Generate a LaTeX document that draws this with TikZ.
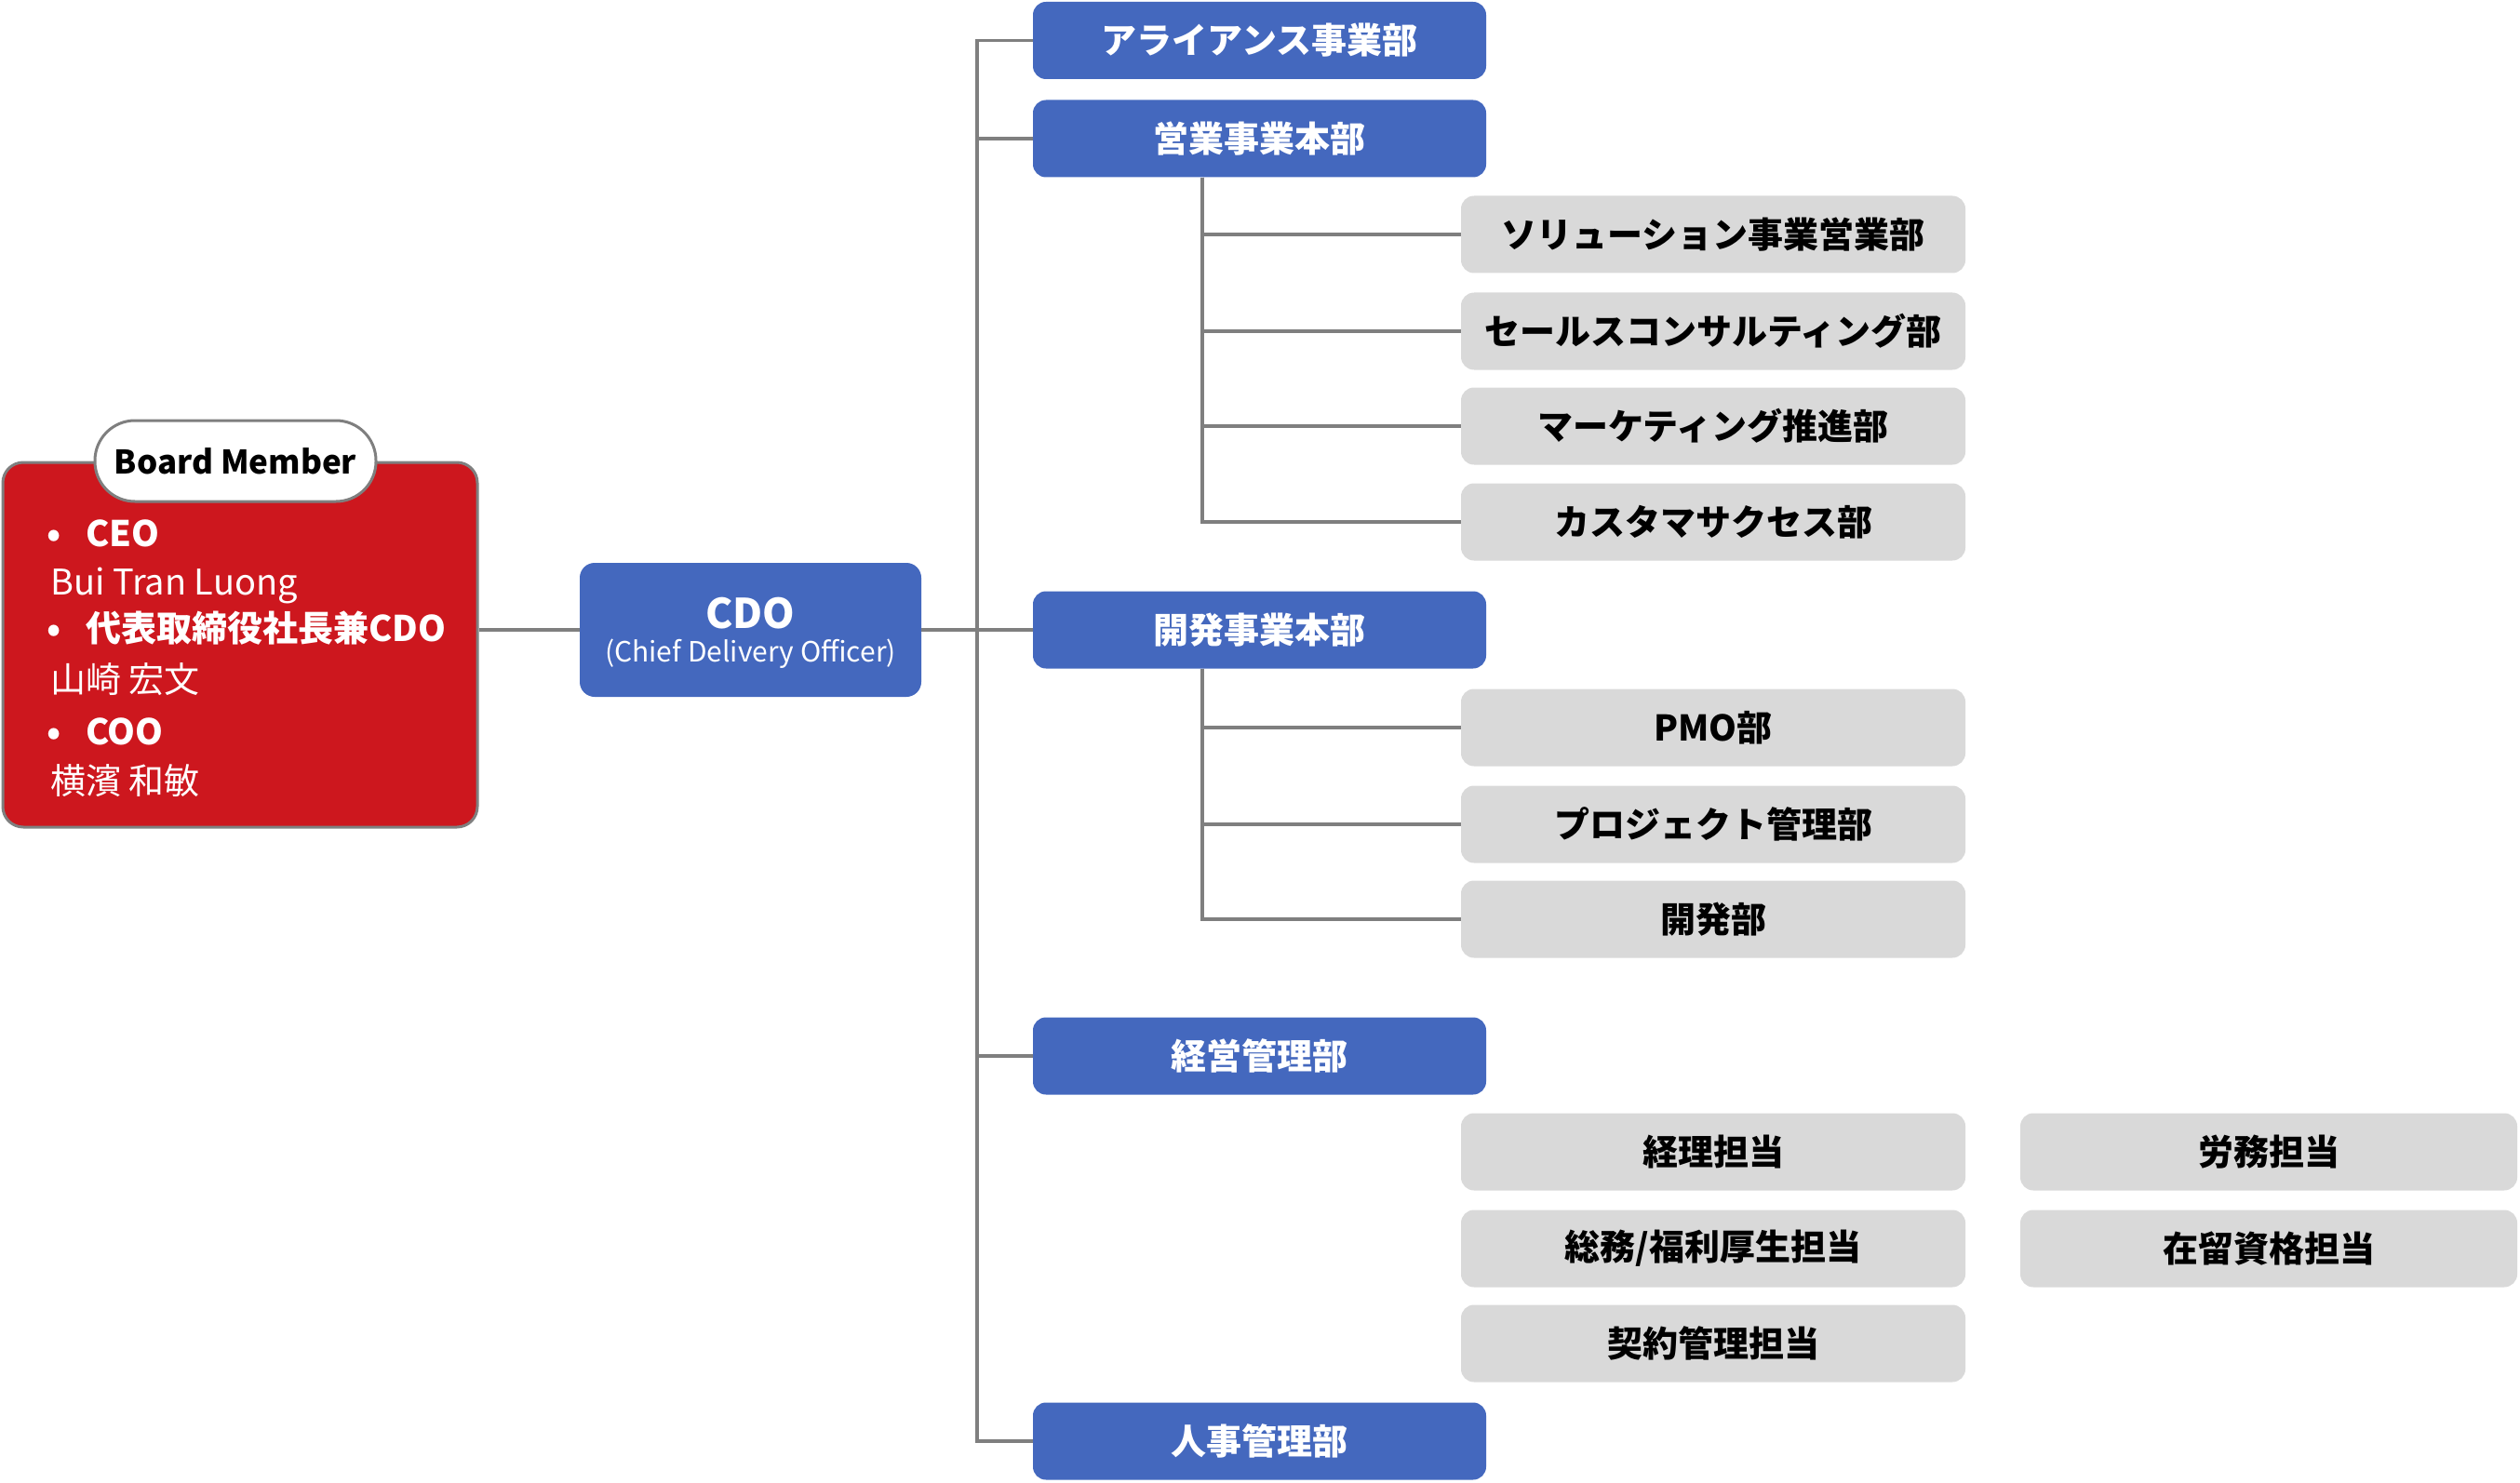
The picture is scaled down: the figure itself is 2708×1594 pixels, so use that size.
\documentclass[tikz,border=0pt]{standalone}
\usepackage{fontspec}
\setmainfont{Noto Sans CJK JP}
\definecolor{boardred}{HTML}{CD171E}
\definecolor{boxblue}{HTML}{4468BE}
\definecolor{boxgray}{HTML}{D9D9D9}
\definecolor{linegray}{HTML}{7F7F7F}
\begin{document}
\begin{tikzpicture}[x=1pt,y=-1pt,
  conn/.style={draw=linegray, line width=3.5pt},
  bluebox/.style={fill=boxblue, rounded corners=14pt, minimum width=487pt, minimum height=83pt, inner sep=0pt, text=white, font=\fontsize{38}{46}\selectfont\bfseries},
  graybox/.style={fill=boxgray, rounded corners=14pt, minimum width=542pt, minimum height=83pt, inner sep=0pt, text=black, font=\fontsize{38}{46}\selectfont\bfseries},
  grayboxr/.style={graybox, minimum width=534pt},
  boardtxt/.style={anchor=base west, inner sep=0pt, text=white, font=\fontsize{38}{46}\selectfont},
  boardbold/.style={boardtxt, font=\fontsize{38}{46}\selectfont\bfseries},
]
\useasboundingbox (0,0) rectangle (2708,1594);

% Board member box
\node[draw=linegray, line width=3pt, fill=boardred, rounded corners=22pt, minimum width=510pt, minimum height=392pt, inner sep=0pt] (board) at (258,693) {};
\node[draw=linegray, line width=3pt, fill=white, rounded corners=43pt, minimum width=302pt, minimum height=87pt, inner sep=0pt, font=\fontsize{35}{42}\selectfont\bfseries] (tab) at (253,495.5) {Board Member};

\node[boardbold] (b1) at (50,587) {•};
\node[boardbold] (t1) at (92,587) {CEO};
\node[boardtxt] (n1) at (54,639) {Bui Tran Luong};
\node[boardbold] (b2) at (50,689) {•};
\node[boardbold] (t2) at (92,689) {代表取締役社長兼CDO};
\node[boardtxt] (n2) at (54,744) {山崎 宏文};
\node[boardbold] (b3) at (50,800) {•};
\node[boardbold] (t3) at (92,800) {COO};
\node[boardtxt] (n3) at (54,853) {横濱 和敏};

% CDO box
\node[fill=boxblue, rounded corners=16pt, minimum width=367pt, minimum height=144pt, inner sep=0pt] (cdo) at (806.5,677) {};
\node[text=white, inner sep=0pt, anchor=base, font=\fontsize{44}{50}\selectfont\bfseries] (cdot) at (806.5,675) {CDO};
\node[text=white, inner sep=0pt, anchor=base, font=\fontsize{30}{36}\selectfont] (cdos) at (806.5,711) {(Chief Delivery Officer)};

% Blue departments
\node[bluebox] (alliance) at (1353.5,43.5) {アライアンス事業部};
\node[bluebox] (sales) at (1353.5,149) {営業事業本部};
\node[bluebox] (dev) at (1353.5,677) {開発事業本部};
\node[bluebox] (mgmt) at (1353.5,1135) {経営管理部};
\node[bluebox] (hr) at (1353.5,1549) {人事管理部};

% Gray sub-departments
\node[graybox] (sol) at (1841,252) {ソリューション事業営業部};
\node[graybox] (scon) at (1841,356) {セールスコンサルティング部};
\node[graybox] (mkt) at (1841,458) {マーケティング推進部};
\node[graybox] (cs) at (1841,561) {カスタマサクセス部};
\node[graybox] (pmo) at (1841,782) {PMO部};
\node[graybox] (pm) at (1841,886) {プロジェクト管理部};
\node[graybox] (devd) at (1841,988) {開発部};
\node[graybox] (acct) at (1841,1238) {経理担当};
\node[graybox] (ga) at (1841,1342) {総務/福利厚生担当};
\node[graybox] (contract) at (1841,1444) {契約管理担当};
\node[grayboxr] (labor) at (2438,1238) {労務担当};
\node[grayboxr] (visa) at (2438,1342) {在留資格担当};

% Connectors
\draw[conn] (cdo.west -| board.east) -- (cdo.west);
\coordinate (trunk) at (1050,677);
\draw[conn] (cdo.east) -- (trunk);
\foreach \d in {alliance,sales,dev,mgmt,hr}
  \draw[conn] (trunk) |- (\d.west);
\coordinate (bx) at (1292,0);
\foreach \s in {sol,scon,mkt,cs}
  \draw[conn] (sales.south -| bx) |- (\s.west);
\foreach \s in {pmo,pm,devd}
  \draw[conn] (dev.south -| bx) |- (\s.west);
\end{tikzpicture}
\end{document}
